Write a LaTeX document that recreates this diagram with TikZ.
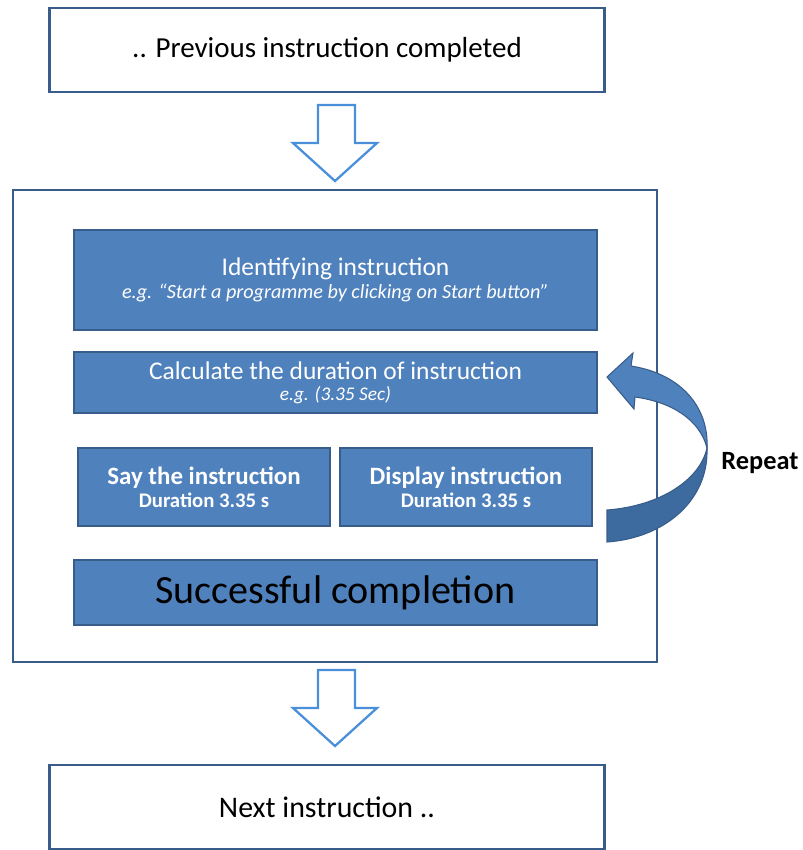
\documentclass[tikz,border=0pt]{standalone}
\usepackage{fontspec}
\setmainfont{Carlito}
\usepackage{xcolor}
\usepackage{tikz}
\usetikzlibrary{arrows.meta, positioning, calc}
\definecolor{ofblue}{HTML}{4F81BD}
\definecolor{ofedge}{HTML}{385D8A}
\definecolor{ofdark}{HTML}{3D6A9F}
\definecolor{hollowblue}{HTML}{4A8FD9}
\newcommand{\fs}[1]{\fontsize{#1}{1.2\dimexpr#1pt\relax}\selectfont}

\begin{document}
\begin{tikzpicture}[
  x=0.02cm, y=-0.02cm,
  whitebox/.style={draw=ofedge, line width=1.6pt, fill=white, minimum width=11.1cm, minimum height=1.68cm, font=\fs{16.5}},
  bluebox/.style={draw=ofedge, line width=1.4pt, fill=ofblue, text=white, align=center, inner sep=0pt},
  hollowarrow/.style={draw=hollowblue, line width=1.3pt, fill=white, line join=miter}
]
  \useasboundingbox (0,0) rectangle (803,850);

  % outer frame
  \node[draw=ofedge, line width=1.3pt, minimum width=12.88cm, minimum height=9.44cm] (frame) at (335,426) {};

  \node[whitebox] (prev) at (327,50) {.. Previous instruction completed};
  \node[whitebox, font=\fs{17}] (next) at (327,807) {Next instruction ..};

  \node[bluebox, minimum width=10.46cm, minimum height=2.0cm] (ident) at (335.5,280)
    {{\fs{14.5}Identifying instruction}\\[1pt]{\fs{11.5}\itshape e.g. ``Start a programme by clicking on Start button''}};
  \node[bluebox, minimum width=10.46cm, minimum height=1.22cm] (calc) at (335.5,382.5)
    {{\fs{14.5}Calculate the duration of instruction}\\{\fs{11}\itshape e.g. (3.35 Sec)}};
  \node[bluebox, minimum width=5.04cm, minimum height=1.56cm] (say) at (204,487)
    {{\fs{14.2}\bfseries Say the instruction}\\[1pt]{\fs{11.8}\bfseries Duration 3.35 s}};
  \node[bluebox, minimum width=5.04cm, minimum height=1.56cm] (disp) at (466,487)
    {{\fs{14.2}\bfseries Display instruction}\\[1pt]{\fs{11.8}\bfseries Duration 3.35 s}};
  \node[bluebox, minimum width=10.46cm, minimum height=1.3cm, text=black, font=\fs{22.8}] (done) at (335.5,592.5)
    {Successful completion};

  % hollow arrows between the stages
  \foreach \ty in {105,670}
    \draw[hollowarrow] (318,\ty) -- (355,\ty) -- (355,\ty+38) -- (377,\ty+38)
      -- (335,\ty+76) -- (293,\ty+38) -- (318,\ty+38) -- cycle;

  % curved repeat arrow
  \fill[ofdark, draw=ofedge, line width=0.6pt] (607,510) .. controls (660,506) and (700,480) .. (707,448)
    .. controls (709,500) and (665,538) .. (607,542) -- cycle;
  \fill[ofblue, draw=ofedge, line width=0.6pt] (607,377) -- (633,353) -- (631,366)
    .. controls (682,374) and (709,408) .. (707,448)
    .. controls (700,420) and (672,402) .. (635,397) -- (634,409) -- cycle;
  \node[font=\fs{15}\bfseries] (repeat) at (760,463) {Repeat};
\end{tikzpicture}
\end{document}
